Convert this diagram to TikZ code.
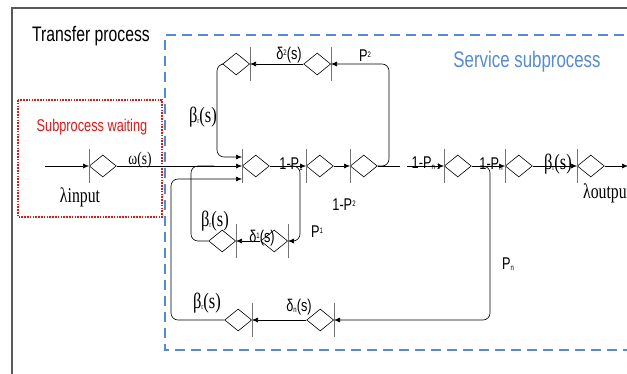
\documentclass[tikz,border=0pt]{standalone}
\usepackage{fontspec}
\setmainfont{Liberation Sans}
\newfontfamily\sfc[FakeStretch=0.75]{Liberation Sans}
\newfontfamily\rmc[FakeStretch=0.75]{Liberation Serif}
\usetikzlibrary{arrows.meta,shapes.geometric}
\newcommand\fs[1]{\fontsize{#1}{#1}\selectfont}
\newcommand\lo[1]{\raisebox{-1.5pt}{\fs{8}#1}}
\newcommand\hi[1]{\raisebox{4pt}{\fs{8}#1}}
\newcommand\stage[4]{%
  \coordinate (#1) at (#2,#3);
  \node[dia,anchor=#4] (#1d) at (#1) {};
  \draw[bar] (#2,#3-17) -- (#2,#3+17);
}
\definecolor{svcblue}{RGB}{85,138,214}
\definecolor{waitred}{RGB}{235,20,20}
\begin{document}
\begin{tikzpicture}[x=1pt,y=-1pt,
  dia/.style={shape=diamond,draw,line width=0.6pt,minimum width=27pt,minimum height=22pt,inner sep=0pt},
  bar/.style={draw=black!55,line width=0.8pt},
  con/.style={draw=black,line width=0.6pt},
  arr/.style={con,-{Latex[length=6pt,width=5pt]}},
  lab/.style={inner sep=0pt,font=\sfc\fs{17}},
  grk/.style={inner sep=0pt,font=\rmc\fs{22}},
  title/.style={inner sep=0pt,font=\sfc\fs{21}}]
\useasboundingbox (0,0) rectangle (627,374);
\fill[white] (0,0) rectangle (627,374);
% frames
\draw[black!65,line width=1.5pt] (640,8) -- (12,8) -- (12,380);
\draw[svcblue,line width=1.6pt,dash pattern=on 10pt off 6pt] (640,35) -- (165,35) -- (165,350) -- (640,350);
\draw[waitred,line width=2pt,dash pattern=on 1.6pt off 1.2pt] (18,100) rectangle (162,217);
\node[title,anchor=west] (ttl) at (32,36) {Transfer process};
\node[title,font=\sfc\fs{22.5},text=svcblue] (svc) at (527,62) {Service subprocess};
\node[inner sep=0pt,font=\sfc\fs{17},text=waitred] (wait) at (92,127) {Subprocess waiting};
% main row
\coordinate (in) at (45,166);
\stage{b0}{89}{166}{west}
\draw[arr] (in) -- (b0);
\stage{b1}{242}{166}{west}
\draw[arr] (b0d.east) -- (b1);
\stage{b2}{306}{166}{west}
\draw[arr] (b1d.east) -- (b2);
\stage{b3}{350}{166}{west}
\draw[arr] (b2d.east) -- (b3);
\coordinate (e3) at (400,166);
\draw[con] (b3d.east) -- (e3);
\coordinate (s4) at (407,166);
\stage{b4}{444}{166}{west}
\draw[arr] (s4) -- (b4);
\stage{b5}{505}{166}{west}
\draw[arr] (b4d.east) -- (b5);
\stage{b6}{577}{166}{west}
\draw[arr] (b5d.east) -- (b6);
\coordinate (out) at (628,166);
\draw[arr] (b6d.east) -- (out);
% top loop
\stage{t1}{331}{64}{east}
\stage{t2}{250}{64}{east}
\coordinate (c3) at (389,64);
\draw[arr,rounded corners=7pt] (b3d.east) -| (c3) -- (t1);
\draw[arr] (t1d.west) -- (t2);
\coordinate (c2) at (217,64);
\coordinate (c2b) at (217,157);
\coordinate (b1u) at (242,157);
\draw[arr,rounded corners=7pt] (t2d.west) -- (c2) -- (c2b) -- (b1u);
% inner loop P1
\stage{i1}{288}{241}{east}
\stage{i2}{236}{241}{east}
\coordinate (p1) at (290,166);
\coordinate (c4) at (300,241);
\draw[arr,rounded corners=7pt] (p1) -| (c4) -- (i1);
\draw[arr] (i1d.west) -- (i2);
\coordinate (c5) at (191,166);
\coordinate (m5) at (214,166);
\draw[con,rounded corners=7pt] (i2d.west) -| (c5) -- (m5);
% outer loop Pn
\stage{o1}{334}{320}{east}
\stage{o2}{252}{320}{east}
\coordinate (pn) at (480,166);
\coordinate (c6) at (490,320);
\draw[arr,rounded corners=7pt] (pn) -| (c6) -- (o1);
\draw[arr] (o1d.west) -- (o2);
\coordinate (c7) at (171,179);
\coordinate (b1l) at (242,179);
\draw[arr,rounded corners=7pt] (o2d.west) -| (c7) -- (b1l);
% labels
\node[grk,font=\rmc\fs{18}] (lw) at (140,160) {ω(s)};
\node[grk,font=\rmc\fs{21}] (lin) at (80,197) {λinput};
\node[grk,font=\rmc\fs{21},anchor=west] (lout) at (583,193) {λoutput};
\node[lab] (l1) at (291,164) {1-P\lo{1}};
\node[lab] (l2) at (426,163) {1-P\lo{n-1}};
\node[lab] (l3) at (491,164) {1-P\lo{n}};
\node[grk] (lb1) at (558,164) {β\lo{r}(s)};
\node[grk] (lb2) at (203,117) {β\lo{r}(s)};
\node[grk] (lb3) at (215,221) {β\lo{r}(s)};
\node[grk] (lb4) at (207,303) {β\lo{r}(s)};
\node[lab] (ld2) at (289,55) {δ\hi{2}(s)};
\node[lab] (lp2) at (365,56) {P\hi{2}};
\node[lab] (ld1) at (262,238) {δ\hi{1}(s)};
\node[lab] (lp1) at (317,232) {P\hi{1}};
\node[lab] (l12) at (344,205) {1-P\hi{2}};
\node[lab] (ldn) at (299,307) {δ\lo{n}(s)};
\node[lab] (lpn) at (508,264) {P\lo{n}};
\end{tikzpicture}
\end{document}
